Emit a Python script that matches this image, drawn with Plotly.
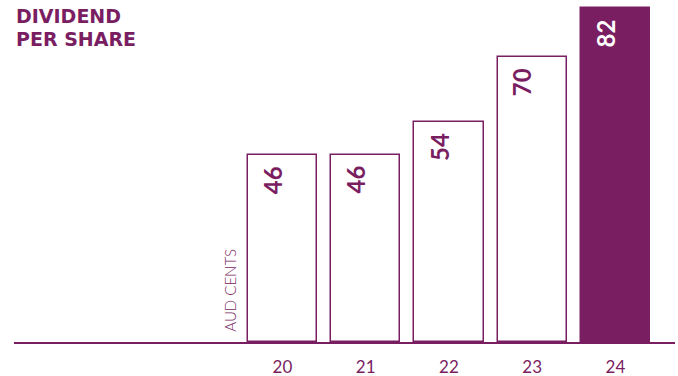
import plotly.graph_objects as go

# Dividend per share, AUD cents, by financial year
years = ["20", "21", "22", "23", "24"]
year_pos = [20, 21, 22, 23, 24]
dividends = [46, 46, 54, 70, 82]
title_lines = ["DIVIDEND", "PER SHARE"]

PURPLE = "#7a1e62"
fills = ["white"] * (len(dividends) - 1) + [PURPLE]
label_colors = [PURPLE] * (len(dividends) - 1) + ["white"]

fig = go.Figure()
fig.add_trace(go.Bar(
    x=year_pos,
    y=dividends,
    width=0.83,
    marker=dict(color=fills, line=dict(color=PURPLE, width=1.5)),
    hoverinfo="skip",
))

# Rotated value labels near the top of each bar
for xv, val, col in zip(year_pos, dividends, label_colors):
    fig.add_annotation(
        x=xv, y=val, xref="x", yref="y",
        text=str(val), textangle=-90, showarrow=False,
        xanchor="center", yanchor="top",
        xshift=-10, yshift=-9,
        font=dict(family="Lato", size=24, color=col, weight="bold"),
    )

# Two-line heading, tightly leaded
for i, line in enumerate(title_lines):
    fig.add_annotation(
        x=0.0, y=1.0, xref="paper", yref="paper",
        text=line, showarrow=False,
        xanchor="left", yanchor="top", align="left",
        xshift=0, yshift=-3 - 23 * i,
        font=dict(family="DejaVu Sans", size=19, color=PURPLE, weight="bold"),
    )

fig.add_annotation(
    x=19.36, y=0, xref="x", yref="y",
    text="AUD CENTS", textangle=-90, showarrow=False,
    xanchor="center", yanchor="bottom", yshift=8,
    font=dict(family="Lato", size=15, color=PURPLE, weight=300),
)

fig.update_layout(
    width=678, height=376,
    margin=dict(l=14, r=3, t=0, b=34),
    paper_bgcolor="white", plot_bgcolor="white",
    showlegend=False,
    bargap=0,
    xaxis=dict(
        range=[16.775, 24.715],
        tickvals=year_pos, ticktext=years,
        showgrid=False, zeroline=False,
        showline=True, linecolor=PURPLE, linewidth=1.5,
        ticks="", ticklabelstandoff=9, automargin=False,
        tickfont=dict(family="Lato", size=17, color=PURPLE),
        fixedrange=True,
    ),
    yaxis=dict(
        range=[0, 83.97], visible=False, fixedrange=True, automargin=False,
    ),
)

fig.write_html("out.html")
